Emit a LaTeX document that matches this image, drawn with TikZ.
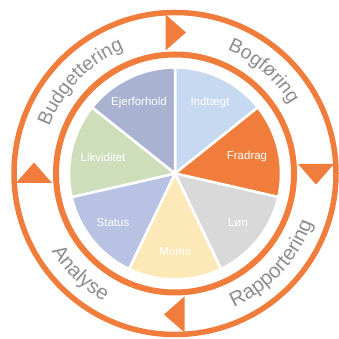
\documentclass[tikz,border=0pt]{standalone}
\usepackage{fontspec}
\setmainfont{Liberation Sans}
\usetikzlibrary{decorations.text}
\definecolor{ringc}{HTML}{F07D3B}
\definecolor{lblgray}{HTML}{8E8E8E}
\definecolor{cIndt}{HTML}{C6D9F0}
\definecolor{cFrad}{HTML}{F07D3B}
\definecolor{cLon}{HTML}{D9D9D9}
\definecolor{cMoms}{HTML}{FDE8B8}
\definecolor{cStat}{HTML}{B8C2E2}
\definecolor{cLikv}{HTML}{CEDEBB}
\definecolor{cEjer}{HTML}{A9B3D1}
\tikzset{
  slice/.style={draw=white, line width=2.5pt, line join=round},
  ring/.style={draw=ringc},
  cyclearrow/.style={fill=ringc},
  innerlbl/.style={font=\fontsize{11.5}{13}\selectfont, text=white, inner sep=0pt},
  toplbl/.style={decorate, decoration={text along path, text align=center,
     text={|\fontsize{19.5}{19.5}\selectfont\color{lblgray}|#1}}},
  botlbl/.style={decorate, decoration={text along path, text align=center,
     text={|\fontsize{20.5}{20.5}\selectfont\color{lblgray}|#1}}},
}
\begin{document}
\begin{tikzpicture}[x=1pt,y=1pt]
\useasboundingbox (0,0) rectangle (338,339);
\fill[white] (0,0) rectangle (338,339);
\begin{scope}[shift={(175,165.5)}]
  \coordinate (C) at (0,0);
  % pie slices
  \foreach \i/\col in {0/cIndt,1/cFrad,2/cLon,3/cMoms,4/cStat,5/cLikv,6/cEjer}{
    \pgfmathsetmacro\a{90-\i*360/7}
    \pgfmathsetmacro\b{90-(\i+1)*360/7}
    \filldraw[slice, fill=\col] (C) -- (\a:106) arc[start angle=\a, end angle=\b, radius=106] -- cycle;
  }
  % rings
  \draw[ring, line width=6pt] (C) circle[radius=119];
  \draw[ring, line width=5.5pt] (C) circle[radius=161];
  % arrow triangles (clockwise)
  \foreach \r in {0,-90,-180,-270}{
    \fill[cyclearrow, rotate=\r] (-9.5,123) -- (-9.5,159) -- (11,141) -- cycle;
  }
  % inner labels
  \node[innerlbl] (lIndt) at (35,70.5) {Indtægt};
  \node[innerlbl] (lFrad) at (72,16.5) {Fradrag};
  \node[innerlbl] (lLon) at (63,-49.5) {Løn};
  \node[innerlbl] (lMoms) at (0,-78.5) {Moms};
  \node[innerlbl] (lStat) at (-62,-49.5) {Status};
  \node[innerlbl] (lLikv) at (-72,16.5) {Likviditet};
  \node[innerlbl] (lEjer) at (-36,70.5) {Ejerforhold};
  % outer curved labels
  \path[toplbl=Bogføring] (94:134) arc[start angle=94, end angle=4, radius=134];
  \path[toplbl=Budgettering] (182:134) arc[start angle=182, end angle=90, radius=134];
  \path[botlbl=Rapportering] (-88:146) arc[start angle=-88, end angle=2, radius=146];
  \path[botlbl=Analyse] (-179:146) arc[start angle=-179, end angle=-88, radius=146];
\end{scope}
\end{tikzpicture}
\end{document}
